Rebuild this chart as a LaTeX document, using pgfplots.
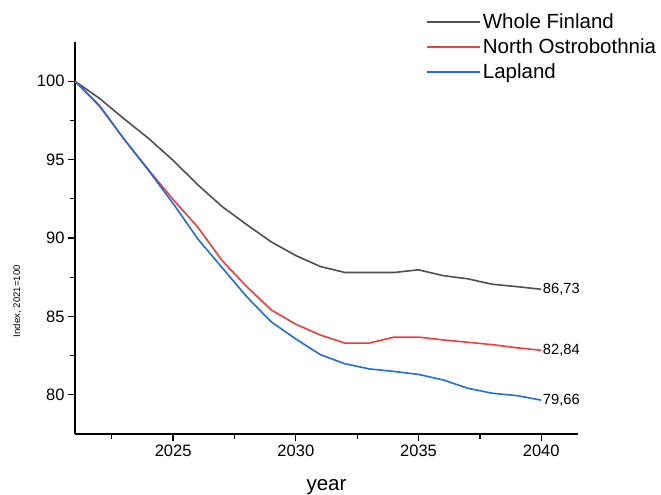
\documentclass[border=0pt]{standalone}
\usepackage{pgfplots}
\pgfplotsset{compat=1.18}
\usepackage{fontspec}
\setmainfont{Liberation Sans}
\definecolor{lgray}{RGB}{80,80,80}
\definecolor{lred}{RGB}{240,60,60}
\definecolor{lblue}{RGB}{30,110,225}
\begin{document}
\begin{tikzpicture}
\begin{axis}[
 scale only axis, width=503bp, height=392bp,
 xmin=2021, xmax=2041.5, ymin=77.5, ymax=102.5,
 axis x line*=bottom, axis y line*=left,
 axis line style={line width=1.5bp, -},
 tick align=outside,
 xtick={2025,2030,2035,2040}, minor xtick={2022.5,2027.5,2032.5,2037.5},
 ytick={80,85,90,95,100}, minor ytick={82.5,87.5,92.5,97.5},
 major tick length=7bp, minor tick length=4.5bp,
 every tick/.style={black, line width=1.3bp},
 /pgf/number format/assume math mode=true,
 x tick label style={/pgf/number format/.cd, 1000 sep={}},
 tick label style={font=\fontsize{16.5bp}{19bp}\selectfont},
 xlabel={year}, ylabel={Index, 2021=100},
 xlabel style={font=\fontsize{20.5bp}{24bp}\selectfont, at={(axis description cs:0.5,-0.1446)}, anchor=base},
 ylabel style={font=\fontsize{9.6bp}{11bp}\selectfont, at={(axis description cs:-0.115,0.339)}, anchor=center},
 legend image code/.code={\draw[#1, line width=1.6bp] (0bp,0bp) -- (47bp,0bp); \path (0bp,0bp) -- (53bp,0bp);},
 legend style={at={(axis description cs:0.698,1.077)}, anchor=north west, draw=none, fill=none,
   inner sep=0pt, font=\fontsize{20.5bp}{24bp}\selectfont, row sep=4.5bp},
 legend cell align=left,
 clip=false,
]
\addplot[color=lgray, line width=1.6bp] coordinates {(2021,100) (2022,98.9) (2023,97.6) (2024,96.35) (2025,94.95) (2026,93.4) (2027,92.0) (2028,90.85) (2029,89.75) (2030,88.88) (2031,88.18) (2032,87.8) (2033,87.8) (2034,87.8) (2035,87.97) (2036,87.6) (2037,87.4) (2038,87.05) (2039,86.9) (2040,86.73)}
 node[pos=1, anchor=west, text=black, inner sep=1bp, font=\fontsize{14.7bp}{17bp}\selectfont] {86,73};
\addlegendentry{Whole Finland}
\addplot[color=lred, line width=1.6bp] coordinates {(2021,100) (2022,98.4) (2023,96.3) (2024,94.35) (2025,92.45) (2026,90.7) (2027,88.55) (2028,86.9) (2029,85.41) (2030,84.5) (2031,83.81) (2032,83.3) (2033,83.3) (2034,83.68) (2035,83.68) (2036,83.5) (2037,83.35) (2038,83.2) (2039,83.0) (2040,82.84)}
 node[pos=1, anchor=west, text=black, inner sep=1bp, font=\fontsize{14.7bp}{17bp}\selectfont] {82,84};
\addlegendentry{North Ostrobothnia}
\addplot[color=lblue, line width=1.6bp] coordinates {(2021,100) (2022,98.45) (2023,96.3) (2024,94.3) (2025,92.2) (2026,89.95) (2027,88.1) (2028,86.25) (2029,84.65) (2030,83.56) (2031,82.56) (2032,81.98) (2033,81.65) (2034,81.49) (2035,81.3) (2036,80.95) (2037,80.42) (2038,80.1) (2039,79.95) (2040,79.66)}
 node[pos=1, anchor=west, text=black, inner sep=1bp, font=\fontsize{14.7bp}{17bp}\selectfont] {79,66};
\addlegendentry{Lapland}
\end{axis}
\pgfresetboundingbox
\path (-75bp,-61bp) rectangle (586bp,434bp);
\end{tikzpicture}
\end{document}
